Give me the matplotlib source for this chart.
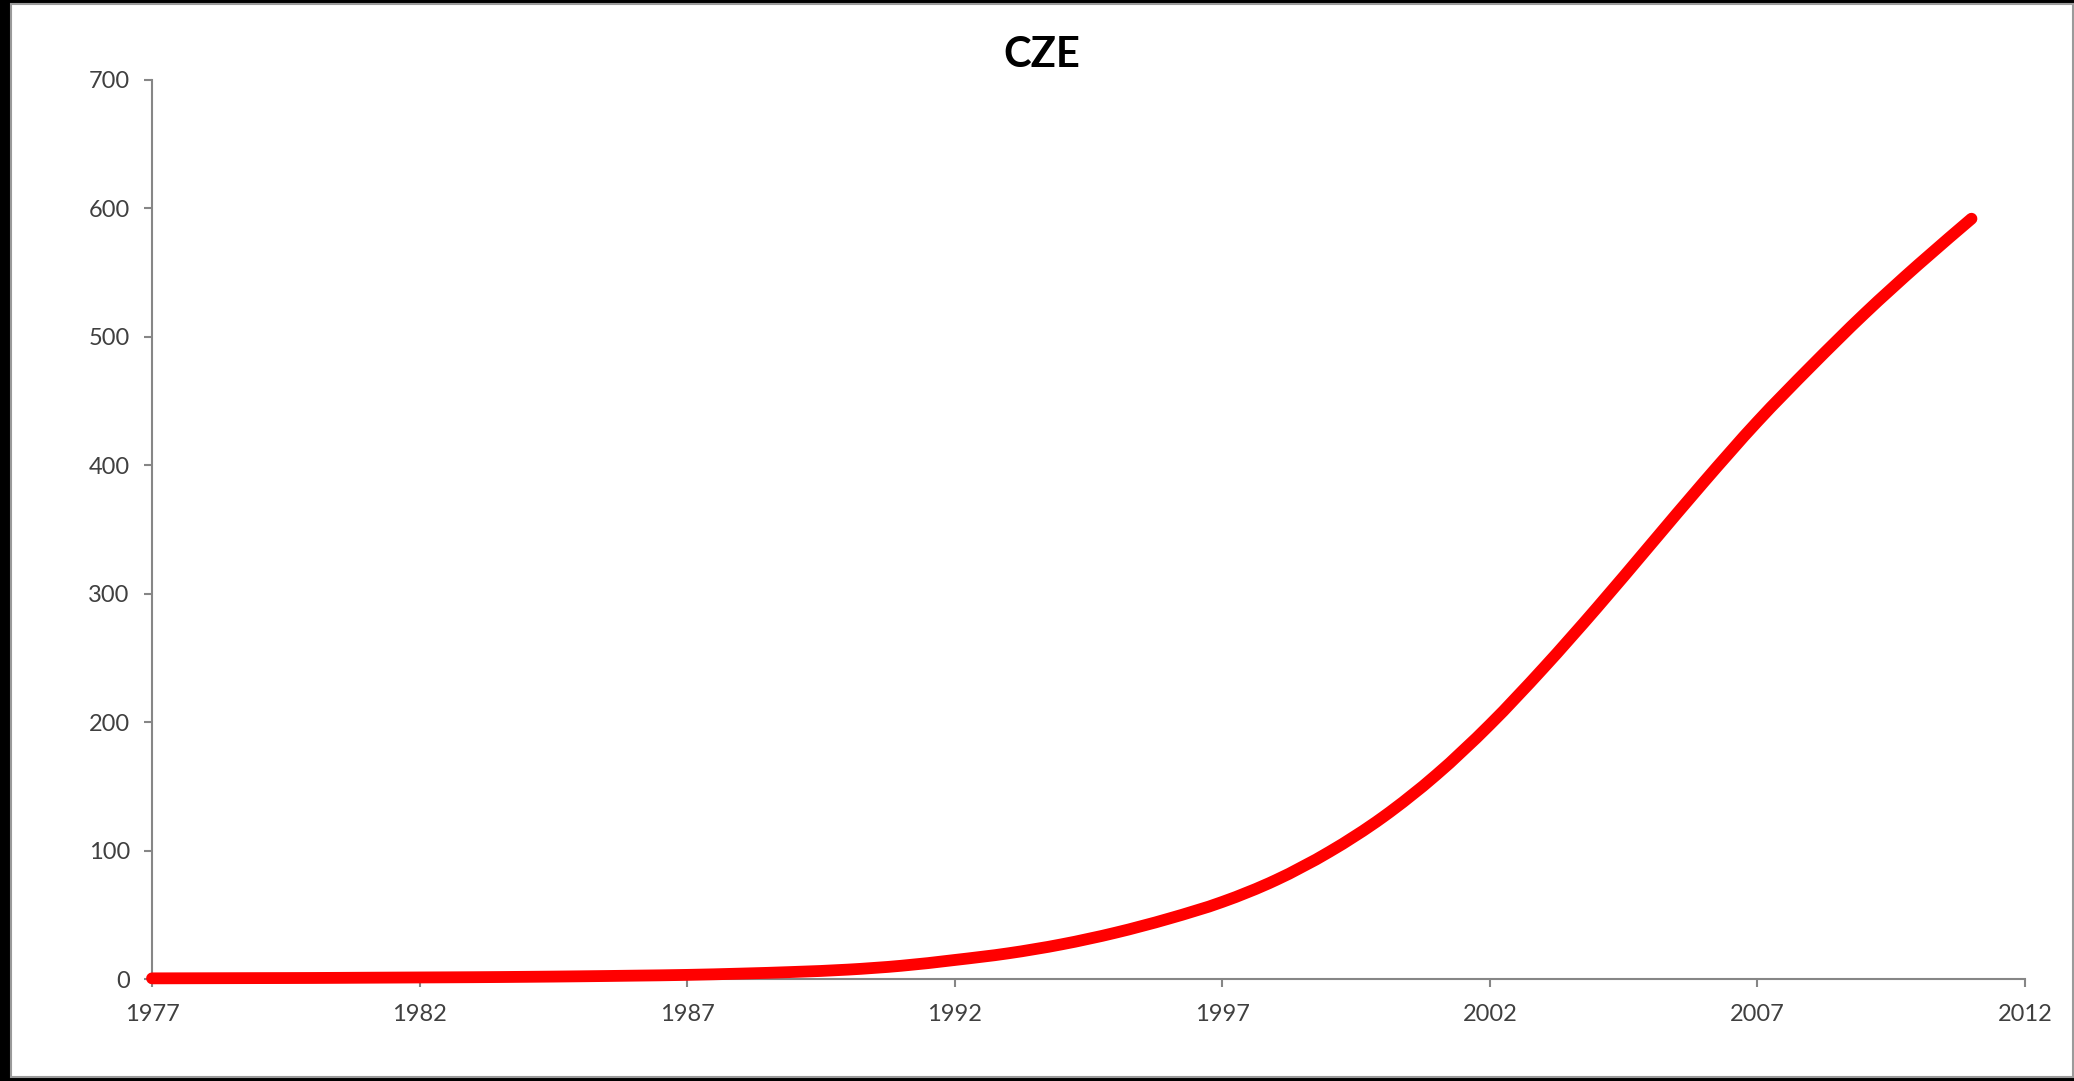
import matplotlib
matplotlib.use("Agg")
import matplotlib.pyplot as plt
from matplotlib.patches import Rectangle, PathPatch
from matplotlib.path import Path

years = list(range(1977, 2012))
values = [0.5, 0.6, 0.7, 0.8, 1.0, 1.2, 1.4, 1.7, 2.1, 2.6,
          3.2, 4.2, 5.5, 7.3, 10.3, 14.8, 20, 27, 36, 47,
          60, 77, 99, 126, 159, 198, 242, 289, 338, 387,
          434, 477, 518, 556, 592]
x_ticks = [1977, 1982, 1987, 1992, 1997, 2002, 2007, 2012]
y_ticks = [0, 100, 200, 300, 400, 500, 600, 700]
title = "CZE"

plt.rcParams['font.family'] = ['Lato', 'DejaVu Sans']

W, H = 2074, 1081
fig = plt.figure(figsize=(W / 100, H / 100), dpi=100)
fig.patch.set_facecolor('black')

# background axes holding the white chart area
bg = fig.add_axes([0, 0, 1, 1], zorder=-5)
bg.set_xlim(0, W)
bg.set_ylim(H, 0)
bg.axis('off')
bg.add_patch(Rectangle((11, 4), 2073 - 11, 1077 - 4, facecolor='white',
                       edgecolor='#9a9a9a', linewidth=1.5))

ax = fig.add_axes([152 / W, 1 - 979 / H, (2025 - 152) / W, (979 - 80) / H], zorder=1)
ax.set_facecolor('none')

# Excel-style smoothed line: cubic Bezier segments through the data points
pts = list(zip(years, values))
n = len(pts)
verts = [pts[0]]
codes = [Path.MOVETO]
for i in range(n - 1):
    p0 = pts[i - 1] if i > 0 else pts[i]
    p1 = pts[i]
    p2 = pts[i + 1]
    p3 = pts[i + 2] if i + 2 < n else pts[i + 1]
    c1 = (p1[0] + (p2[0] - p0[0]) / 6, p1[1] + (p2[1] - p0[1]) / 6)
    c2 = (p2[0] - (p3[0] - p1[0]) / 6, p2[1] - (p3[1] - p1[1]) / 6)
    verts += [c1, c2, p2]
    codes += [Path.CURVE4] * 3
path = Path(verts, codes)
ax.add_patch(PathPatch(path, facecolor='none', edgecolor='#ff0000', linewidth=8.5,
                       capstyle='round', joinstyle='round', zorder=3, clip_on=False))

ax.set_xlim(1977, 2012)
ax.set_ylim(0, 700)
ax.set_xticks(x_ticks)
ax.set_yticks(y_ticks)
ax.set_xticklabels([str(t) for t in x_ticks])
ax.set_yticklabels([str(t) for t in y_ticks])

for s in ['top', 'right']:
    ax.spines[s].set_visible(False)
for s in ['left', 'bottom']:
    ax.spines[s].set_color('#868686')
    ax.spines[s].set_linewidth(1.5)

ax.tick_params(axis='both', direction='out', length=6, width=1.5, color='#868686',
               labelsize=17, labelcolor='#404040')
ax.tick_params(axis='x', pad=12)
ax.tick_params(axis='y', pad=10)

fig.text(1042 / W, 1 - 55 / H, title, ha='center', va='center',
         fontsize=30, fontweight='bold', color='black')

fig.savefig('out.png', dpi=100, facecolor=fig.get_facecolor())
